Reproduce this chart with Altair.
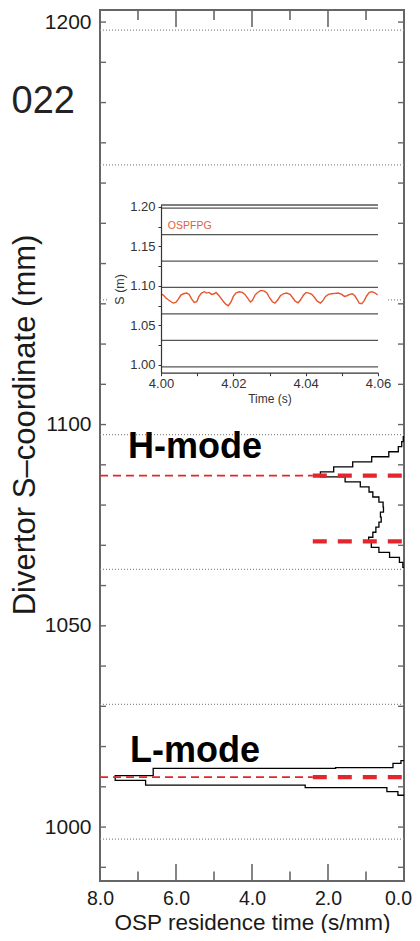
import altair as alt
import pandas as pd

FONT = "Liberation Sans"

# ---------------- main panel data ----------------
X_DOMAIN = [0.0, 8.0]                 # OSP residence time (s/mm), drawn reversed
Y_DOMAIN = [986.6, 1203.0]            # divertor S-coordinate (mm)
X_LABELS = [0, 2, 4, 6, 8]
X_MAJOR = [0, 2, 4, 6, 8]
X_MINOR = [1, 3, 5, 7]
Y_LABELS = [1000, 1050, 1100, 1200]
Y_TICKS = [990, 1000, 1010, 1020, 1030, 1040, 1050, 1060, 1070, 1080, 1090,
           1100, 1110, 1120, 1130, 1140, 1150, 1160, 1170, 1180, 1190, 1200]

TILE_EDGES_MM = [997.0, 1030.5, 1064.0, 1097.5, 1131.0, 1164.5, 1198.0]

# H-mode residence-time histogram (bin edges in mm, values in s/mm)
H_EDGES = [1064.5, 1065.75, 1067.0, 1068.25, 1069.5, 1070.75, 1072.0, 1073.25,
           1074.5, 1075.75, 1077.0, 1078.25, 1079.5, 1080.75, 1082.0, 1083.25,
           1084.5, 1085.75, 1087.0, 1088.25, 1089.5, 1090.75, 1092.0, 1093.25,
           1094.5, 1095.75, 1097.0]
H_VALUES = [0.03, 0.12, 0.38, 0.66, 0.86, 0.93, 0.82, 0.74, 0.66, 0.60, 0.62,
            0.54, 0.55, 0.66, 0.82, 0.92, 1.15, 1.55, 2.20, 1.85, 1.35, 0.85,
            0.40, 0.15, 0.06, 0.02]

# L-mode residence-time histogram
L_EDGES = [1007.9, 1008.8, 1009.8, 1010.4, 1011.6, 1012.8, 1014.6, 1014.75, 1015.8, 1016.5]
L_VALUES = [0.16, 0.45, 2.6, 6.8, 7.6, 6.6, 1.8, 0.29, 0.08]

# strike-point markers (red dashed)
THIN_S = [1087.3, 1012.4]
THIN_FROM = [8.0, 8.0]
THIN_TO = [2.4, 2.4]
THICK_S = [1087.3, 1071.0, 1012.4]
THICK_FROM = [2.4, 2.4, 2.4]
THICK_TO = [-0.45, -0.45, -0.45]

ANNOT_TEXT = ["H-mode", "L-mode"]
ANNOT_X = [7.26, 7.21]
ANNOT_S = [1091.8, 1016.1]

SLIDE_TEXT = ["022"]
SLIDE_X = [8.66]
SLIDE_S = [1177.5]

# ---------------- inset data ----------------
INSET_T_DOMAIN = [4.00, 4.06]
INSET_S_DOMAIN = [0.99, 1.2025]
INSET_T_TICKS = [4.00, 4.01, 4.02, 4.03, 4.04, 4.05, 4.06]
INSET_S_TICKS = [1.000, 1.025, 1.050, 1.075, 1.100, 1.125, 1.150, 1.175, 1.200]
INSET_TILE_EDGES_M = [0.9975, 1.031, 1.0645, 1.098, 1.1315, 1.165, 1.1985]

TRACE_T = [4.0000, 4.00065, 4.0013, 4.0020, 4.0028, 4.0034, 4.0041, 4.0048, 4.0055,
           4.0062, 4.0071, 4.0078, 4.0085, 4.0092, 4.0099, 4.0105, 4.0112, 4.0120,
           4.0126, 4.0133, 4.0140, 4.0147, 4.0152, 4.0159, 4.0166, 4.0173, 4.0180,
           4.0186, 4.0194, 4.0200, 4.0207, 4.0216, 4.0225, 4.0232, 4.0240, 4.0247,
           4.0253, 4.0260, 4.0267, 4.0276, 4.0286, 4.0293, 4.0300, 4.0308, 4.0315,
           4.0323, 4.0330, 4.0338, 4.0347, 4.0357, 4.0364, 4.0371, 4.0379, 4.0386,
           4.0394, 4.0401, 4.0409, 4.0417, 4.0425, 4.0432, 4.0441, 4.0448, 4.0455,
           4.0463, 4.0472, 4.0481, 4.0490, 4.0500, 4.0507, 4.0514, 4.0522, 4.0529,
           4.0536, 4.0543, 4.0548, 4.0555, 4.0561, 4.0569, 4.0576, 4.0584, 4.0592,
           4.0599]
TRACE_S = [1.0900, 1.0884, 1.0850, 1.0824, 1.0799, 1.0782, 1.0790, 1.0833, 1.0884,
           1.0900, 1.0909, 1.0892, 1.0833, 1.0790, 1.0799, 1.0867, 1.0909, 1.0926,
           1.0909, 1.0917, 1.0892, 1.0900, 1.0917, 1.0884, 1.0841, 1.0799, 1.0765,
           1.0748, 1.0799, 1.0867, 1.0909, 1.0926, 1.0917, 1.0892, 1.0841, 1.0795,
           1.0816, 1.0884, 1.0917, 1.0943, 1.0934, 1.0909, 1.0850, 1.0799, 1.0782,
           1.0824, 1.0875, 1.0900, 1.0909, 1.0892, 1.0850, 1.0807, 1.0786, 1.0824,
           1.0884, 1.0917, 1.0909, 1.0892, 1.0850, 1.0807, 1.0782, 1.0816, 1.0867,
           1.0892, 1.0900, 1.0905, 1.0909, 1.0892, 1.0867, 1.0875, 1.0892, 1.0900,
           1.0875, 1.0824, 1.0782, 1.0774, 1.0807, 1.0875, 1.0917, 1.0926, 1.0909,
           1.0884]
INSET_LABEL = ["OSPFPG"]
INSET_LABEL_T = [4.0019]
INSET_LABEL_S = [1.1725]

# ---------------- layout / style ----------------
PLOT_W, PLOT_H = 304, 871
INSET_X_RANGE = [61, 278]
INSET_Y_RANGE = [362.7, 195]
FRAME = "#666666"
TXT = "#1a1a1a"
RED = "#e3262b"
ITXT = "#333333"

# ---------------- tables ----------------
tile_df = pd.DataFrame({"S": TILE_EDGES_MM})
hist_rows = []
for mode, edges, vals in (("H", H_EDGES, H_VALUES), ("L", L_EDGES, L_VALUES)):
    pts = [(0.0, edges[0])]
    for lo, hi, v in zip(edges[:-1], edges[1:], vals):
        pts += [(v, lo), (v, hi)]
    pts.append((0.0, edges[-1]))
    for i, (v, s) in enumerate(pts):
        hist_rows.append({"mode": mode, "i": i, "v": v, "S": s})
hist_df = pd.DataFrame(hist_rows)
thin_df = pd.DataFrame({"S": THIN_S, "x0": THIN_FROM, "x1": THIN_TO})
thick_df = pd.DataFrame({"S": THICK_S, "x0": THICK_FROM, "x1": THICK_TO})
ytick_df = pd.DataFrame({"S": Y_TICKS})
xmaj_df = pd.DataFrame({"v": X_MAJOR})
xmin_df = pd.DataFrame({"v": X_MINOR})
annot_df = pd.DataFrame({"label": ANNOT_TEXT, "v": ANNOT_X, "S": ANNOT_S})
slide_df = pd.DataFrame({"label": SLIDE_TEXT, "v": SLIDE_X, "S": SLIDE_S})

itile_df = pd.DataFrame({"S": INSET_TILE_EDGES_M,
                         "t0": [INSET_T_DOMAIN[0]] * len(INSET_TILE_EDGES_M),
                         "t1": [INSET_T_DOMAIN[1]] * len(INSET_TILE_EDGES_M)})
iborder_df = pd.DataFrame({"S": [INSET_S_DOMAIN[1]], "t0": [INSET_T_DOMAIN[0]],
                           "t1": [INSET_T_DOMAIN[1]]})
trace_df = pd.DataFrame({"t": TRACE_T, "S": TRACE_S})
ilabel_df = pd.DataFrame({"label": INSET_LABEL, "t": INSET_LABEL_T, "S": INSET_LABEL_S})

# ---------------- main panel ----------------
xs = alt.Scale(domain=X_DOMAIN, reverse=True, nice=False, zero=False)
ys = alt.Scale(domain=Y_DOMAIN, nice=False, zero=False)
ax_x = alt.Axis(orient="bottom", values=X_LABELS, format=".1f",
                title="OSP residence time (s/mm)", ticks=False, tickSize=0,
                domain=False, grid=False, labelPadding=8, labelFontSize=19.5,
                labelFlush=False, labelOverlap=False, labelColor=TXT,
                labelOffset={"condition": {"test": "datum.value == 0", "value": -6},
                             "value": 0},
                titleFontSize=22.5, titleFontWeight="normal", titleColor=TXT,
                titleY=48, titleBaseline="alphabetic")
ax_y = alt.Axis(orient="left", values=Y_LABELS, format="d",
                title="Divertor S\u2013coordinate (mm)", ticks=False, tickSize=0,
                domain=False, grid=False, labelPadding=9, labelFontSize=21,
                labelOverlap=False, labelColor=TXT,
                titleFontSize=31, titleFontWeight="normal", titleColor=TXT,
                titleX=-66, titleY=414.5, titleBaseline="alphabetic")


def X(f):
    return alt.X(f, type="quantitative", scale=xs, axis=ax_x)


def Y(f):
    return alt.Y(f, type="quantitative", scale=ys, axis=ax_y)


tiles = alt.Chart(tile_df).mark_rule(color="#8a8a8a", strokeDash=[1, 2],
                                     strokeWidth=1.2).encode(y=Y("S"))
hist = alt.Chart(hist_df).mark_line(color="black", strokeWidth=1.3).encode(
    x=X("v"), y=Y("S"), order="i:Q", detail="mode:N")
thin = alt.Chart(thin_df).mark_rule(color=RED, strokeWidth=1.8, strokeDash=[8, 5],
                                    clip=False).encode(y=Y("S"), x=X("x0"), x2="x1")
thick = alt.Chart(thick_df).mark_rule(color=RED, strokeWidth=4.2, strokeDash=[14, 11],
                                      clip=False).encode(y=Y("S"), x=X("x0"), x2="x1")
tick_l = alt.Chart(ytick_df).mark_rule(color=FRAME, strokeWidth=1.4).encode(
    y=Y("S"), x=alt.value(0), x2=alt.value(6))
tick_r = alt.Chart(ytick_df).mark_rule(color=FRAME, strokeWidth=1.4).encode(
    y=Y("S"), x=alt.value(PLOT_W), x2=alt.value(PLOT_W - 6))
tick_bM = alt.Chart(xmaj_df).mark_rule(color=FRAME, strokeWidth=1.6).encode(
    x=X("v"), y=alt.value(PLOT_H), y2=alt.value(PLOT_H - 17))
tick_bm = alt.Chart(xmin_df).mark_rule(color=FRAME, strokeWidth=1.6).encode(
    x=X("v"), y=alt.value(PLOT_H), y2=alt.value(PLOT_H - 9.5))
tick_tM = alt.Chart(xmaj_df).mark_rule(color=FRAME, strokeWidth=1.6).encode(
    x=X("v"), y=alt.value(0), y2=alt.value(17))
tick_tm = alt.Chart(xmin_df).mark_rule(color=FRAME, strokeWidth=1.6).encode(
    x=X("v"), y=alt.value(0), y2=alt.value(10))
annot = alt.Chart(annot_df).mark_text(font=FONT, fontSize=36, fontWeight="bold",
                                      align="left", baseline="alphabetic",
                                      color="black").encode(
    x=X("v"), y=Y("S"), text="label:N")
slide = alt.Chart(slide_df).mark_text(
    font=FONT, fontSize=38, align="right", baseline="alphabetic",
    color="#222222", clip=False).encode(
    x=X("v"), y=Y("S"), text="label:N")

main = alt.layer(tiles, hist, thin, thick, tick_l, tick_r, tick_bM, tick_bm,
                 tick_tM, tick_tm, annot, slide)

# ---------------- inset ----------------
isx = alt.Scale(domain=INSET_T_DOMAIN, range=INSET_X_RANGE, nice=False, zero=False)
isy = alt.Scale(domain=INSET_S_DOMAIN, range=INSET_Y_RANGE, nice=False, zero=False)
iax_x = alt.Axis(orient="bottom", offset=INSET_Y_RANGE[0] - PLOT_H,
                 values=INSET_T_TICKS, zindex=2,
                 labelExpr="round(datum.value*100) % 2 == 0 ? format(datum.value, '.2f') : ''",
                 title="Time (s)", tickSize=3, tickColor=ITXT, tickWidth=1,
                 domainColor=ITXT, domainWidth=1.2, grid=False,
                 labelFontSize=13, labelColor=ITXT, labelPadding=2,
                 labelFlush=False, labelOverlap=False,
                 titleFontSize=12, titleFontWeight="normal", titleColor=ITXT,
                 titleY=30, titleBaseline="alphabetic")
iax_y = alt.Axis(orient="left", offset=-INSET_X_RANGE[0], values=INSET_S_TICKS,
                 zindex=2,
                 labelExpr="round(datum.value*1000) % 50 == 0 ? format(datum.value, '.2f') : ''",
                 title="S (m)", tickSize=3, tickColor=ITXT, tickWidth=1,
                 domainColor=ITXT, domainWidth=1.2, grid=False,
                 labelFontSize=13, labelColor=ITXT, labelPadding=3,
                 labelOverlap=False,
                 titleFontSize=12.5, titleFontWeight="normal", titleColor=ITXT,
                 titleX=-38, titleBaseline="alphabetic")


def IX(f):
    return alt.X(f, type="quantitative", scale=isx, axis=iax_x)


def IY(f):
    return alt.Y(f, type="quantitative", scale=isy, axis=iax_y)


ibg = alt.Chart(pd.DataFrame({"k": [0]})).mark_rect(color="white").encode(
    x=alt.value(8), x2=alt.value(288), y=alt.value(188), y2=alt.value(392))
itiles = alt.Chart(itile_df).mark_rule(color="#555555", strokeWidth=1.3).encode(
    x=IX("t0"), x2="t1", y=IY("S"))
iborder = alt.Chart(iborder_df).mark_rule(color="#555555", strokeWidth=1.3).encode(
    x=IX("t0"), x2="t1", y=IY("S"))
trace = alt.Chart(trace_df).mark_line(color="#e4572e", strokeWidth=1.4).encode(
    x=IX("t"), y=IY("S"))
ilabel = alt.Chart(ilabel_df).mark_text(font=FONT, fontSize=10.5, align="left",
                                        baseline="alphabetic", color="#e0603a").encode(
    x=IX("t"), y=IY("S"), text="label:N")

inset = alt.layer(ibg, itiles, iborder, trace, ilabel)

chart = alt.layer(main, inset).resolve_scale(
    x="independent", y="independent"
).properties(
    width=PLOT_W, height=PLOT_H,
    autosize=alt.AutoSizeParams(type="none"),
    padding={"left": 92, "top": 2, "right": 8, "bottom": 52},
).configure(font=FONT).configure_view(stroke=FRAME, strokeWidth=2)

chart.save("out.html", embed_options={"renderer": "svg", "actions": False})
